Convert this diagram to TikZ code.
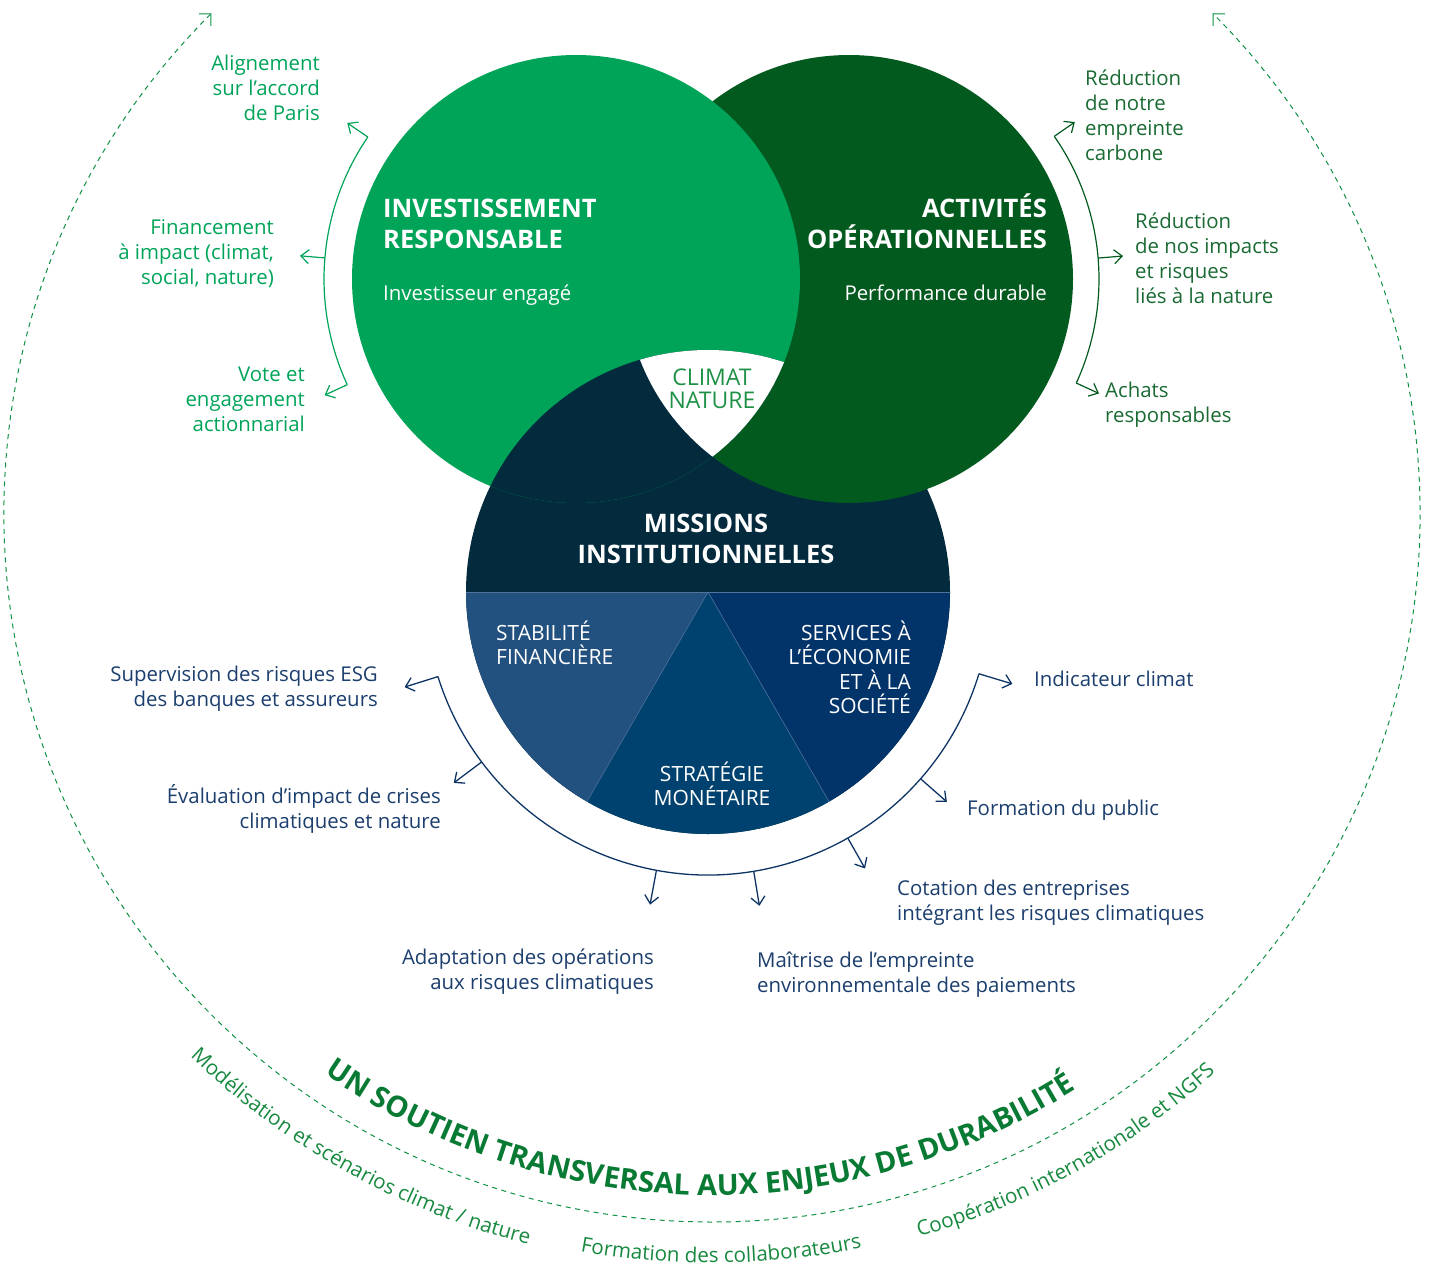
\documentclass[tikz,border=0pt]{standalone}
\usepackage{fontspec}
\setmainfont{Open Sans}
\usetikzlibrary{calc,arrows.meta,decorations.text}
\definecolor{lgreen}{HTML}{00A459}
\definecolor{dgreen}{HTML}{035A1F}
\definecolor{dgtext}{HTML}{1A6A33}
\definecolor{navytop}{HTML}{042B3D}
\definecolor{stab}{HTML}{22507F}
\definecolor{strat}{HTML}{00426F}
\definecolor{serv}{HTML}{02346A}
\definecolor{navytext}{HTML}{1B3E6D}
\definecolor{navyline}{HTML}{0D3464}
\definecolor{dashgreen}{HTML}{0E9144}
\definecolor{titlegreen}{HTML}{087A33}
\definecolor{outgreen}{HTML}{17893F}
\definecolor{climgreen}{HTML}{1F9147}
\definecolor{sepline}{HTML}{4F739A}
\begin{document}
\begin{tikzpicture}[x=1pt,y=1pt,
  lab/.style={inner sep=0pt, font=\fontsize{20.4}{25}\selectfont},
  lgl/.style={lab, text=lgreen, align=right, anchor=base east},
  dgl/.style={lab, text=dgtext, align=left, anchor=base west},
  nvr/.style={lab, text=navytext, align=right, anchor=base east},
  nvl/.style={lab, text=navytext, align=left, anchor=base west},
  head/.style={inner sep=0pt, text=white, font=\fontsize{25.5}{31}\selectfont\bfseries},
  subw/.style={inner sep=0pt, text=white, font=\fontsize{20.4}{25}\selectfont},
  pie/.style={inner sep=0pt, text=white, font=\fontsize{21}{24.5}\selectfont},
  climat/.style={inner sep=0pt, text=climgreen, align=center, font=\fontsize{23}{23}\selectfont},
  barb/.tip={Straight Barb[length=8pt,width=14pt]},
  arrLG/.style={draw=lgreen, line width=1.2pt, -barb},
  arrDG/.style={draw=dgreen, line width=1.2pt, -barb},
  arrNV/.style={draw=navyline, line width=1.3pt, -barb},
  arcLG/.style={draw=lgreen, line width=1.2pt},
  arcDG/.style={draw=dgreen, line width=1.2pt},
  arcNV/.style={draw=navyline, line width=1.3pt},
  dashring/.style={draw=dashgreen, line width=1pt, dash pattern=on 5pt off 4.5pt,
    {Straight Barb[length=8.5pt,width=17pt]}-{Straight Barb[length=8.5pt,width=17pt]}},
  sep/.style={draw=sepline, line width=0.6pt},
  ringtext/.style={decorate, decoration={text along path, text align=center,
    text color=outgreen, text={|\fontsize{20.6}{21}\selectfont|#1}}},
]
\useasboundingbox (0,0) rectangle (1430,-1266);

\coordinate (G) at (576,-279);
\coordinate (D) at (849,-279);
\coordinate (N) at (708,-592);
\coordinate (O) at (712,-514);

% navy circle and pie
\fill[navytop] (N) circle (242);
\fill[stab] (N) -- ($(N)+(180:242)$) arc[start angle=180,end angle=240,radius=242] -- cycle;
\fill[strat] (N) -- ($(N)+(240:242)$) arc[start angle=240,end angle=300,radius=242] -- cycle;
\fill[serv] (N) -- ($(N)+(300:242)$) arc[start angle=300,end angle=360,radius=242] -- cycle;
\draw[sep] ($(N)+(180:242)$) -- ($(N)+(0:242)$);
\draw[sep] (N) -- ($(N)+(240:242)$);
\draw[sep] (N) -- ($(N)+(300:242)$);

% green circles with cyclic overlap
\fill[dgreen] (D) circle (224);
\fill[lgreen] (G) circle (224);
\begin{scope}
  \clip (G) circle (224);
  \fill[navytop] (N) circle (242);
  \clip (D) circle (224);
  \fill[white] (N) circle (242);
\end{scope}

% circle texts (base anchor = baseline of last line)
\node[head, anchor=base west, align=left] (ir) at (383,-248) {INVESTISSEMENT\\RESPONSABLE};
\node[subw, anchor=base west] (ie) at (383,-300) {Investisseur engagé};
\node[head, anchor=base east, align=right] (ao) at (1047,-248) {ACTIVITÉS\\OPÉRATIONNELLES};
\node[subw, anchor=base east] (pd) at (1047,-300) {Performance durable};
\node[head, anchor=base, align=center] (mi) at (706,-563) {MISSIONS\\INSTITUTIONNELLES};
\node[climat, anchor=base] (cn) at (712,-408) {CLIMAT\\NATURE};
\node[pie, anchor=base west, align=left] (sf) at (496,-664.5) {STABILITÉ\\FINANCIÈRE};
\node[pie, anchor=base east, align=right] (se) at (911,-713.5) {SERVICES À\\L’ÉCONOMIE\\ET À LA\\SOCIÉTÉ};
\node[pie, anchor=base, align=center] (sm) at (712,-805.5) {STRATÉGIE\\MONÉTAIRE};

% left green arc and arrows
\draw[arcLG] ($(G)+(145.7:252)$) arc[start angle=145.7, end angle=204.8, radius=252];
\foreach \a/\n in {145.7/g1,175.2/g2,204.8/g3}{
  \coordinate (\n-a) at ($(G)+(\a:252)$);
  \coordinate (\n-b) at ($(G)+(\a:277)$);
  \draw[arrLG] (\n-a) -- (\n-b);
}
\node[lgl] (l1) at (320,-120) {Alignement\\sur l’accord\\de Paris};
\node[lgl] (l2) at (274,-284) {Financement\\à impact (climat,\\social, nature)};
\node[lgl] (l3) at (305,-431) {Vote et\\engagement\\actionnarial};

% right dark green arc and arrows
\draw[arcDG] ($(D)+(34.8:250)$) arc[start angle=34.8, end angle=-24.6, radius=250];
\foreach \a/\n in {34.8/d1,4.8/d2,-24.6/d3}{
  \coordinate (\n-a) at ($(D)+(\a:250)$);
  \coordinate (\n-b) at ($(D)+(\a:275)$);
  \draw[arrDG] (\n-a) -- (\n-b);
}
\node[dgl] (r1) at (1085,-160) {Réduction\\de notre\\empreinte\\carbone};
\node[dgl] (r2) at (1135,-303) {Réduction\\de nos impacts\\et risques\\liés à la nature};
\node[dgl] (r3) at (1105,-422) {Achats\\responsables};

% navy arc and arrows
\draw[arcNV] ($(N)+(197.4:283)$) arc[start angle=197.4, end angle=343.2, radius=283];
\foreach \a/\n in {197.4/n1,216.9/n2,259.5/n3,279.3/n4,299.6/n5,318.7/n6,343.2/n7}{
  \coordinate (\n-a) at ($(N)+(\a:283)$);
  \coordinate (\n-b) at ($(N)+(\a:318)$);
  \draw[arrNV] (\n-a) -- (\n-b);
}
\node[nvr] (b1) at (378,-706) {Supervision des risques ESG\\des banques et assureurs};
\node[nvr] (b2) at (441,-828) {Évaluation d’impact de crises\\climatiques et nature};
\node[nvr] (b3) at (654,-989) {Adaptation des opérations\\aux risques climatiques};
\node[nvl] (b4) at (757,-992) {Maîtrise de l’empreinte\\environnementale des paiements};
\node[nvl] (b5) at (897,-920) {Cotation des entreprises\\intégrant les risques climatiques};
\node[nvl] (b6) at (967,-815) {Formation du public};
\node[nvl] (b7) at (1034,-686) {Indicateur climat};

% outer dashed ring
\draw[dashring] ($(O)+(135:708)$) arc[start angle=135, end angle=405, radius=708];

% curved texts
\path[decorate, decoration={text along path, text align=center, text color=titlegreen,
  text={|\fontsize{29}{29}\selectfont\bfseries|UN SOUTIEN TRANSVERSAL AUX ENJEUX DE DURABILITÉ}}]
  ($(O)+(199.8:681)$) arc[start angle=199.8, end angle=337.8, radius=681];
\path[ringtext={Modélisation et scénarios climat / nature}]
  ($(O)+(215:753)$) arc[start angle=215, end angle=267, radius=753];
\path[ringtext={Formation des collaborateurs}]
  ($(O)+(250:749)$) arc[start angle=250, end angle=291.4, radius=749];
\path[ringtext={Coopération internationale et NGFS}]
  ($(O)+(275:752)$) arc[start angle=275, end angle=323, radius=752];
\end{tikzpicture}
\end{document}
